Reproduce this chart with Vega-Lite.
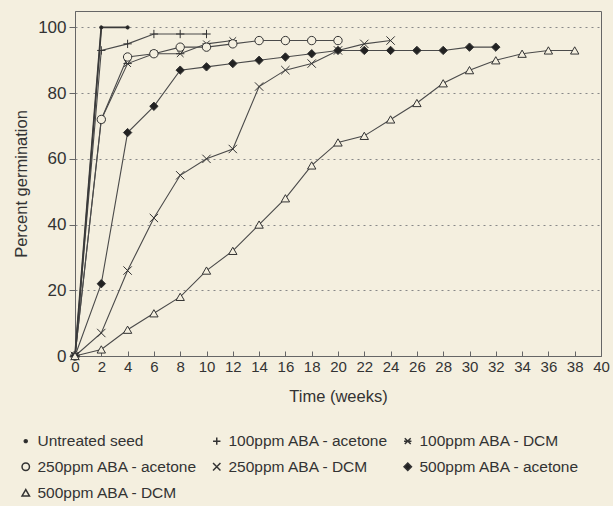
{
  "$schema": "https://vega.github.io/schema/vega-lite/v6.json",
  "width": 526,
  "height": 345,
  "autosize": "none",
  "padding": {"left": 75, "top": 11, "right": 12, "bottom": 150},
  "background": "#f4efdf",
  "config": {
    "font": "Liberation Sans",
    "view": {"stroke": "#666", "strokeWidth": 1},
    "axis": {"labelColor": "#333", "titleColor": "#333", "domainColor": "#666", "tickColor": "#666", "labelFont": "Liberation Sans", "titleFont": "Liberation Sans", "titleFontWeight": "normal"},
    "legend": {"labelFont": "Liberation Sans", "labelColor": "#333"}
  },
  "data": {"values": [
    {"series": "Untreated seed", "week": 0, "pct": 0},
    {"series": "Untreated seed", "week": 2, "pct": 100},
    {"series": "Untreated seed", "week": 4, "pct": 100},
    {"series": "100ppm ABA - acetone", "week": 0, "pct": 0},
    {"series": "100ppm ABA - acetone", "week": 2, "pct": 93},
    {"series": "100ppm ABA - acetone", "week": 4, "pct": 95},
    {"series": "100ppm ABA - acetone", "week": 6, "pct": 98},
    {"series": "100ppm ABA - acetone", "week": 8, "pct": 98},
    {"series": "100ppm ABA - acetone", "week": 10, "pct": 98},
    {"series": "100ppm ABA - DCM", "week": 0, "pct": 0},
    {"series": "100ppm ABA - DCM", "week": 2, "pct": 72},
    {"series": "100ppm ABA - DCM", "week": 4, "pct": 89},
    {"series": "100ppm ABA - DCM", "week": 6, "pct": 92},
    {"series": "100ppm ABA - DCM", "week": 8, "pct": 92},
    {"series": "100ppm ABA - DCM", "week": 10, "pct": 95},
    {"series": "100ppm ABA - DCM", "week": 12, "pct": 96},
    {"series": "250ppm ABA - acetone", "week": 0, "pct": 0},
    {"series": "250ppm ABA - acetone", "week": 2, "pct": 72},
    {"series": "250ppm ABA - acetone", "week": 4, "pct": 91},
    {"series": "250ppm ABA - acetone", "week": 6, "pct": 92},
    {"series": "250ppm ABA - acetone", "week": 8, "pct": 94},
    {"series": "250ppm ABA - acetone", "week": 10, "pct": 94},
    {"series": "250ppm ABA - acetone", "week": 12, "pct": 95},
    {"series": "250ppm ABA - acetone", "week": 14, "pct": 96},
    {"series": "250ppm ABA - acetone", "week": 16, "pct": 96},
    {"series": "250ppm ABA - acetone", "week": 18, "pct": 96},
    {"series": "250ppm ABA - acetone", "week": 20, "pct": 96},
    {"series": "250ppm ABA - DCM", "week": 0, "pct": 0},
    {"series": "250ppm ABA - DCM", "week": 2, "pct": 7},
    {"series": "250ppm ABA - DCM", "week": 4, "pct": 26},
    {"series": "250ppm ABA - DCM", "week": 6, "pct": 42},
    {"series": "250ppm ABA - DCM", "week": 8, "pct": 55},
    {"series": "250ppm ABA - DCM", "week": 10, "pct": 60},
    {"series": "250ppm ABA - DCM", "week": 12, "pct": 63},
    {"series": "250ppm ABA - DCM", "week": 14, "pct": 82},
    {"series": "250ppm ABA - DCM", "week": 16, "pct": 87},
    {"series": "250ppm ABA - DCM", "week": 18, "pct": 89},
    {"series": "250ppm ABA - DCM", "week": 20, "pct": 93},
    {"series": "250ppm ABA - DCM", "week": 22, "pct": 95},
    {"series": "250ppm ABA - DCM", "week": 24, "pct": 96},
    {"series": "500ppm ABA - acetone", "week": 0, "pct": 0},
    {"series": "500ppm ABA - acetone", "week": 2, "pct": 22},
    {"series": "500ppm ABA - acetone", "week": 4, "pct": 68},
    {"series": "500ppm ABA - acetone", "week": 6, "pct": 76},
    {"series": "500ppm ABA - acetone", "week": 8, "pct": 87},
    {"series": "500ppm ABA - acetone", "week": 10, "pct": 88},
    {"series": "500ppm ABA - acetone", "week": 12, "pct": 89},
    {"series": "500ppm ABA - acetone", "week": 14, "pct": 90},
    {"series": "500ppm ABA - acetone", "week": 16, "pct": 91},
    {"series": "500ppm ABA - acetone", "week": 18, "pct": 92},
    {"series": "500ppm ABA - acetone", "week": 20, "pct": 93},
    {"series": "500ppm ABA - acetone", "week": 22, "pct": 93},
    {"series": "500ppm ABA - acetone", "week": 24, "pct": 93},
    {"series": "500ppm ABA - acetone", "week": 26, "pct": 93},
    {"series": "500ppm ABA - acetone", "week": 28, "pct": 93},
    {"series": "500ppm ABA - acetone", "week": 30, "pct": 94},
    {"series": "500ppm ABA - acetone", "week": 32, "pct": 94},
    {"series": "500ppm ABA - DCM", "week": 0, "pct": 0},
    {"series": "500ppm ABA - DCM", "week": 2, "pct": 2},
    {"series": "500ppm ABA - DCM", "week": 4, "pct": 8},
    {"series": "500ppm ABA - DCM", "week": 6, "pct": 13},
    {"series": "500ppm ABA - DCM", "week": 8, "pct": 18},
    {"series": "500ppm ABA - DCM", "week": 10, "pct": 26},
    {"series": "500ppm ABA - DCM", "week": 12, "pct": 32},
    {"series": "500ppm ABA - DCM", "week": 14, "pct": 40},
    {"series": "500ppm ABA - DCM", "week": 16, "pct": 48},
    {"series": "500ppm ABA - DCM", "week": 18, "pct": 58},
    {"series": "500ppm ABA - DCM", "week": 20, "pct": 65},
    {"series": "500ppm ABA - DCM", "week": 22, "pct": 67},
    {"series": "500ppm ABA - DCM", "week": 24, "pct": 72},
    {"series": "500ppm ABA - DCM", "week": 26, "pct": 77},
    {"series": "500ppm ABA - DCM", "week": 28, "pct": 83},
    {"series": "500ppm ABA - DCM", "week": 30, "pct": 87},
    {"series": "500ppm ABA - DCM", "week": 32, "pct": 90},
    {"series": "500ppm ABA - DCM", "week": 34, "pct": 92},
    {"series": "500ppm ABA - DCM", "week": 36, "pct": 93},
    {"series": "500ppm ABA - DCM", "week": 38, "pct": 93}
  ]},
  "encoding": {
    "x": {"field": "week", "type": "quantitative",
      "scale": {"domain": [0, 40], "nice": false},
      "axis": {"values": [0,2,4,6,8,10,12,14,16,18,20,22,24,26,28,30,32,34,36,38,40], "grid": false, "tickSize": -5, "labelFontSize": 15, "labelPadding": 8, "title": "Time (weeks)", "titleFontSize": 16.5, "titlePadding": 14, "labelFlush": false}},
    "y": {"field": "pct", "type": "quantitative",
      "scale": {"domain": [0, 105], "nice": false},
      "axis": {"values": [0,20,40,60,80,100], "grid": true, "gridDash": [2,4], "gridColor": "#888", "gridWidth": 1, "tickSize": 6, "labelFontSize": 17, "labelPadding": 3, "title": "Percent germination", "titleFontSize": 16.5, "titlePadding": 8}}
  },
  "layer": [
    {
      "mark": {"type": "line", "color": "#4a4a4a", "strokeWidth": 1.1},
      "encoding": {
        "detail": {"field": "series", "type": "nominal"},
        "order": {"field": "week", "type": "quantitative"}
      }
    },
    {
      "transform": [{"filter": "datum.series === 'Untreated seed'"}],
      "mark": {"type": "line", "color": "#3a3a3a", "strokeWidth": 1.8},
      "encoding": {
        "order": {"field": "week", "type": "quantitative"}
      }
    },
    {
      "mark": {"type": "point", "filled": true, "stroke": "#333", "strokeWidth": 1, "size": 70, "opacity": 1},
      "encoding": {
        "shape": {"field": "series", "type": "nominal",
          "scale": {"domain": ["Untreated seed", "100ppm ABA - acetone", "100ppm ABA - DCM", "250ppm ABA - acetone", "250ppm ABA - DCM", "500ppm ABA - acetone", "500ppm ABA - DCM"],
            "range": ["M-0.4,0A0.4,0.4 0 1,0 0.4,0A0.4,0.4 0 1,0 -0.4,0Z", "M-1,0L1,0M0,-1L0,1", "M-1,0L1,0M-0.8,-0.8L0.8,0.8M-0.8,0.8L0.8,-0.8", "circle", "M-1,-1L1,1M-1,1L1,-1", "diamond", "triangle-up"]},
          "legend": {"title": null, "orient": "none", "legendX": -57, "legendY": 422, "columns": 3, "direction": "horizontal", "labelFontSize": 15.5, "symbolSize": 55, "columnPadding": 11, "rowPadding": 9, "labelOffset": 4, "labelLimit": 300,
            "encode": {"symbols": {"update": {"stroke": {"value": "#444"}, "strokeWidth": {"value": 1}, "opacity": {"value": 1}}}}}},
        "fill": {"field": "series", "type": "nominal",
          "scale": {"domain": ["Untreated seed", "100ppm ABA - acetone", "100ppm ABA - DCM", "250ppm ABA - acetone", "250ppm ABA - DCM", "500ppm ABA - acetone", "500ppm ABA - DCM"],
            "range": ["#222222", "#f4efdf", "#f4efdf", "#f4efdf", "#f4efdf", "#222222", "#f4efdf"]},
          "legend": {"title": null, "orient": "none", "legendX": -57, "legendY": 422, "columns": 3, "direction": "horizontal", "labelFontSize": 15.5, "symbolSize": 55, "columnPadding": 11, "rowPadding": 9, "labelOffset": 4, "labelLimit": 300,
            "encode": {"symbols": {"update": {"stroke": {"value": "#444"}, "strokeWidth": {"value": 1}, "opacity": {"value": 1}}}}}}
      }
    }
  ]
}
